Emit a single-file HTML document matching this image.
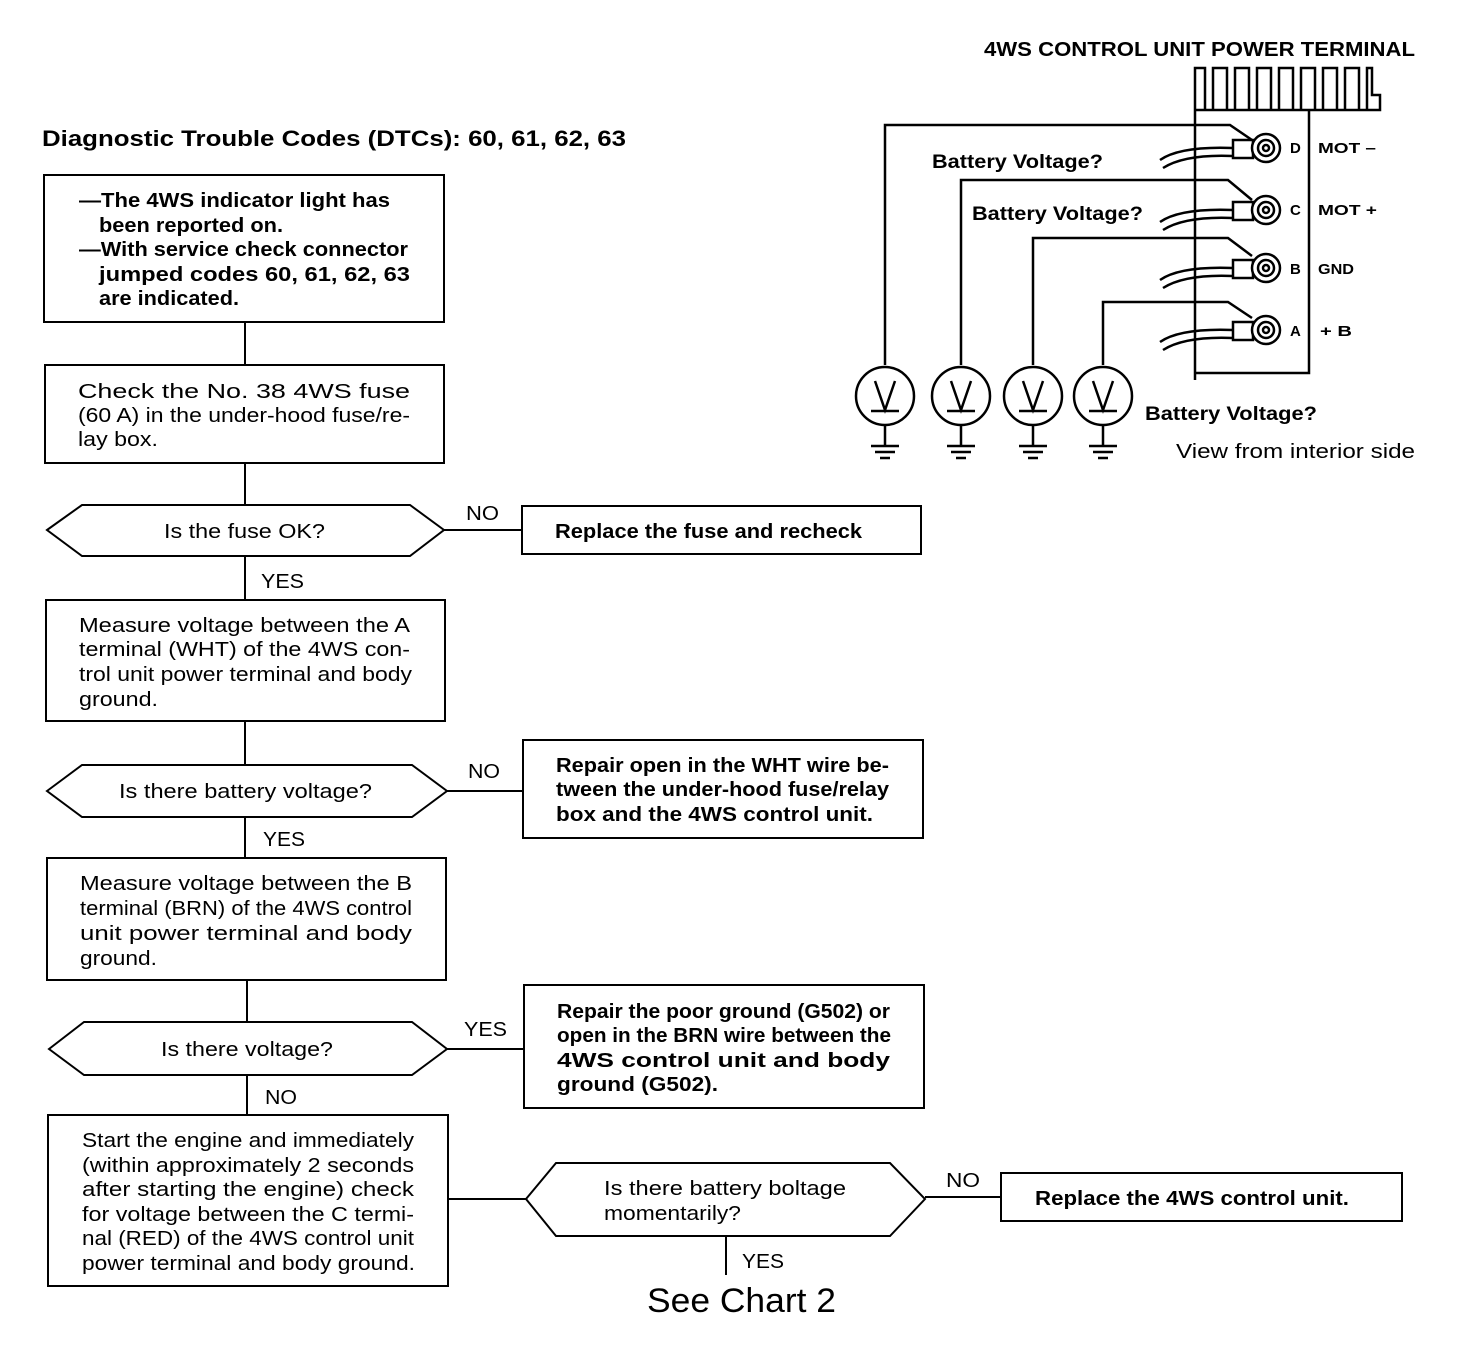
<!DOCTYPE html>
<html><head><meta charset="utf-8"><style>
html,body{margin:0;padding:0;background:#fff;}
svg{display:block;}
text{font-family:"Liberation Sans",Arial,sans-serif;fill:#000;}
.b{font-weight:bold;}
</style></head><body>
<svg width="1472" height="1360" viewBox="0 0 1472 1360" xmlns="http://www.w3.org/2000/svg">
<g fill="none" stroke="#000" stroke-width="2">
<rect x="44" y="175" width="400" height="147"/>
<rect x="45" y="365" width="399" height="98"/>
<rect x="522" y="506" width="399" height="48"/>
<rect x="46" y="600" width="399" height="121"/>
<rect x="523" y="740" width="400" height="98"/>
<rect x="47" y="858" width="399" height="122"/>
<rect x="524" y="985" width="400" height="123"/>
<rect x="48" y="1115" width="400" height="171"/>
<rect x="1001" y="1173" width="401" height="48"/>
<polygon points="47,530 82,505 410,505 444,530 410,556 82,556"/>
<polygon points="47,791 82,765 412,765 447,791 412,817 82,817"/>
<polygon points="49,1049 84,1022 412,1022 447,1049 412,1075 84,1075"/>
<polygon points="526,1199 556,1163 890,1163 925,1199 890,1236 556,1236"/>
<line x1="245" y1="322" x2="245" y2="365"/>
<line x1="245" y1="463" x2="245" y2="505"/>
<line x1="444" y1="530" x2="522" y2="530"/>
<line x1="245" y1="556" x2="245" y2="600"/>
<line x1="245" y1="721" x2="245" y2="765"/>
<line x1="447" y1="791" x2="523" y2="791"/>
<line x1="245" y1="817" x2="245" y2="858"/>
<line x1="247" y1="980" x2="247" y2="1022"/>
<line x1="447" y1="1049" x2="524" y2="1049"/>
<line x1="247" y1="1075" x2="247" y2="1115"/>
<line x1="448" y1="1199" x2="526" y2="1199"/>
<line x1="925" y1="1197" x2="1001" y2="1197"/>
<line x1="726" y1="1236" x2="726" y2="1275"/>
</g>
<g lengthAdjust="spacingAndGlyphs">
<text x="42" y="146" font-size="22" class="b" textLength="584" lengthAdjust="spacingAndGlyphs">Diagnostic Trouble Codes (DTCs): 60, 61, 62, 63</text>
<g font-size="20" class="b">
<text x="79" y="207" textLength="311" lengthAdjust="spacingAndGlyphs">—The 4WS indicator light has</text>
<text x="99" y="232" textLength="184" lengthAdjust="spacingAndGlyphs">been reported on.</text>
<text x="79" y="256" textLength="329" lengthAdjust="spacingAndGlyphs">—With service check connector</text>
<text x="99" y="281" textLength="311" lengthAdjust="spacingAndGlyphs">jumped codes 60, 61, 62, 63</text>
<text x="99" y="305" textLength="140" lengthAdjust="spacingAndGlyphs">are indicated.</text>
</g>
<g font-size="20">
<text x="78" y="398" textLength="332" lengthAdjust="spacingAndGlyphs">Check the No. 38 4WS fuse</text>
<text x="78" y="422" textLength="332" lengthAdjust="spacingAndGlyphs">(60 A) in the under-hood fuse/re-</text>
<text x="78" y="446" textLength="80" lengthAdjust="spacingAndGlyphs">lay box.</text>
<text x="164" y="538" textLength="161" lengthAdjust="spacingAndGlyphs">Is the fuse OK?</text>
<text x="466" y="520" textLength="33" lengthAdjust="spacingAndGlyphs">NO</text>
<text x="261" y="588" textLength="43" lengthAdjust="spacingAndGlyphs">YES</text>
<text x="79" y="632" textLength="331" lengthAdjust="spacingAndGlyphs">Measure voltage between the A</text>
<text x="79" y="656" textLength="331" lengthAdjust="spacingAndGlyphs">terminal (WHT) of the 4WS con-</text>
<text x="79" y="681" textLength="333" lengthAdjust="spacingAndGlyphs">trol unit power terminal and body</text>
<text x="79" y="706" textLength="79" lengthAdjust="spacingAndGlyphs">ground.</text>
<text x="119" y="798" textLength="253" lengthAdjust="spacingAndGlyphs">Is there battery voltage?</text>
<text x="468" y="778" textLength="32" lengthAdjust="spacingAndGlyphs">NO</text>
<text x="263" y="846" textLength="42" lengthAdjust="spacingAndGlyphs">YES</text>
<text x="80" y="890" textLength="332" lengthAdjust="spacingAndGlyphs">Measure voltage between the B</text>
<text x="80" y="915" textLength="332" lengthAdjust="spacingAndGlyphs">terminal (BRN) of the 4WS control</text>
<text x="80" y="940" textLength="332" lengthAdjust="spacingAndGlyphs">unit power terminal and body</text>
<text x="80" y="965" textLength="77" lengthAdjust="spacingAndGlyphs">ground.</text>
<text x="161" y="1056" textLength="172" lengthAdjust="spacingAndGlyphs">Is there voltage?</text>
<text x="464" y="1036" textLength="43" lengthAdjust="spacingAndGlyphs">YES</text>
<text x="265" y="1104" textLength="32" lengthAdjust="spacingAndGlyphs">NO</text>
<text x="82" y="1147" textLength="332" lengthAdjust="spacingAndGlyphs">Start the engine and immediately</text>
<text x="82" y="1172" textLength="332" lengthAdjust="spacingAndGlyphs">(within approximately 2 seconds</text>
<text x="82" y="1196" textLength="332" lengthAdjust="spacingAndGlyphs">after starting the engine) check</text>
<text x="82" y="1221" textLength="332" lengthAdjust="spacingAndGlyphs">for voltage between the C termi-</text>
<text x="82" y="1245" textLength="332" lengthAdjust="spacingAndGlyphs">nal (RED) of the 4WS control unit</text>
<text x="82" y="1270" textLength="333" lengthAdjust="spacingAndGlyphs">power terminal and body ground.</text>
<text x="604" y="1195" textLength="242" lengthAdjust="spacingAndGlyphs">Is there battery boltage</text>
<text x="604" y="1220" textLength="137" lengthAdjust="spacingAndGlyphs">momentarily?</text>
<text x="946" y="1187" textLength="34" lengthAdjust="spacingAndGlyphs">NO</text>
<text x="742" y="1268" textLength="42" lengthAdjust="spacingAndGlyphs">YES</text>
</g>
<g font-size="20" class="b">
<text x="555" y="538" textLength="307" lengthAdjust="spacingAndGlyphs">Replace the fuse and recheck</text>
<text x="556" y="772" textLength="333" lengthAdjust="spacingAndGlyphs">Repair open in the WHT wire be-</text>
<text x="556" y="796" textLength="333" lengthAdjust="spacingAndGlyphs">tween the under-hood fuse/relay</text>
<text x="556" y="821" textLength="317" lengthAdjust="spacingAndGlyphs">box and the 4WS control unit.</text>
<text x="557" y="1018" textLength="333" lengthAdjust="spacingAndGlyphs">Repair the poor ground (G502) or</text>
<text x="557" y="1042" textLength="334" lengthAdjust="spacingAndGlyphs">open in the BRN wire between the</text>
<text x="557" y="1067" textLength="333" lengthAdjust="spacingAndGlyphs">4WS control unit and body</text>
<text x="557" y="1091" textLength="161" lengthAdjust="spacingAndGlyphs">ground (G502).</text>
<text x="1035" y="1205" textLength="314" lengthAdjust="spacingAndGlyphs">Replace the 4WS control unit.</text>
</g>
<text x="647" y="1312" font-size="34" textLength="189" lengthAdjust="spacingAndGlyphs">See Chart 2</text>

<text x="984" y="56" font-size="20" class="b" textLength="431" lengthAdjust="spacingAndGlyphs">4WS CONTROL UNIT POWER TERMINAL</text>
</g>
<g fill="none" stroke="#000" stroke-width="2.5">
<polyline points="1195,380 1195,68 1205,68 1205,110 1213,110 1213,68 1227,68 1227,110 1235,110 1235,68 1249,68 1249,110 1257,110 1257,68 1271,68 1271,110 1279,110 1279,68 1293,68 1293,110 1301,110 1301,68 1315,68 1315,110 1323,110 1323,68 1337,68 1337,110 1345,110 1345,68 1359,68 1359,110 1367,110 1367,68 1372,68 1372,95 1380,95 1380,110 1195,110"/>
<polyline points="1309,110 1309,373 1195,373"/>
<polyline points="885,365 885,125 1230,125 1252,140"/>
<polyline points="961,365 961,180 1228,180 1252,200"/>
<polyline points="1033,365 1033,238 1228,238 1252,256"/>
<polyline points="1103,365 1103,302 1228,302 1252,318"/>
<path d="M1233,148 Q1180,146 1160,160 M1233,156 Q1185,154 1163,168"/>
<path d="M1233,210 Q1180,208 1160,222 M1233,218 Q1185,216 1163,230"/>
<path d="M1233,268 Q1180,266 1160,280 M1233,276 Q1185,274 1163,288"/>
<path d="M1233,330 Q1180,328 1160,342 M1233,338 Q1185,336 1163,350"/>
</g>
<g stroke="#000" stroke-width="2.5" fill="#fff">
<rect x="1233" y="140" width="20" height="18"/><circle cx="1266" cy="148" r="14"/><circle cx="1266" cy="148" r="8"/><circle cx="1266" cy="148" r="3"/>
<rect x="1233" y="202" width="20" height="18"/><circle cx="1266" cy="210" r="14"/><circle cx="1266" cy="210" r="8"/><circle cx="1266" cy="210" r="3"/>
<rect x="1233" y="260" width="20" height="18"/><circle cx="1266" cy="268" r="14"/><circle cx="1266" cy="268" r="8"/><circle cx="1266" cy="268" r="3"/>
<rect x="1233" y="322" width="20" height="18"/><circle cx="1266" cy="330" r="14"/><circle cx="1266" cy="330" r="8"/><circle cx="1266" cy="330" r="3"/>
</g>
<g font-size="15" class="b">
<text x="1290" y="153">D</text><text x="1318" y="153" textLength="58" lengthAdjust="spacingAndGlyphs">MOT  –</text>
<text x="1290" y="215">C</text><text x="1318" y="215" textLength="59" lengthAdjust="spacingAndGlyphs">MOT  +</text>
<text x="1290" y="274">B</text><text x="1318" y="274" textLength="36" lengthAdjust="spacingAndGlyphs">GND</text>
<text x="1290" y="336">A</text><text x="1320" y="336" textLength="32" lengthAdjust="spacingAndGlyphs">+ B</text>
</g>
<g font-size="19" class="b">
<text x="932" y="168" textLength="171" lengthAdjust="spacingAndGlyphs">Battery Voltage?</text>
<text x="972" y="220" textLength="171" lengthAdjust="spacingAndGlyphs">Battery Voltage?</text>
<text x="1145" y="420" textLength="172" lengthAdjust="spacingAndGlyphs">Battery Voltage?</text>
</g>
<text x="1176" y="458" font-size="20" textLength="239" lengthAdjust="spacingAndGlyphs">View from interior side</text>
<g fill="none" stroke="#000" stroke-width="2.5">
<g transform="translate(885,0)"><circle cx="0" cy="396" r="29"/><path d="M-10,381 L0,410 L10,381 M-14,411 H14 M0,425 V445 M-14,446 H14 M-10,452 H10 M-5,458 H5"/></g>
<g transform="translate(961,0)"><circle cx="0" cy="396" r="29"/><path d="M-10,381 L0,410 L10,381 M-14,411 H14 M0,425 V445 M-14,446 H14 M-10,452 H10 M-5,458 H5"/></g>
<g transform="translate(1033,0)"><circle cx="0" cy="396" r="29"/><path d="M-10,381 L0,410 L10,381 M-14,411 H14 M0,425 V445 M-14,446 H14 M-10,452 H10 M-5,458 H5"/></g>
<g transform="translate(1103,0)"><circle cx="0" cy="396" r="29"/><path d="M-10,381 L0,410 L10,381 M-14,411 H14 M0,425 V445 M-14,446 H14 M-10,452 H10 M-5,458 H5"/></g>
</g>
</svg>
</body></html>
